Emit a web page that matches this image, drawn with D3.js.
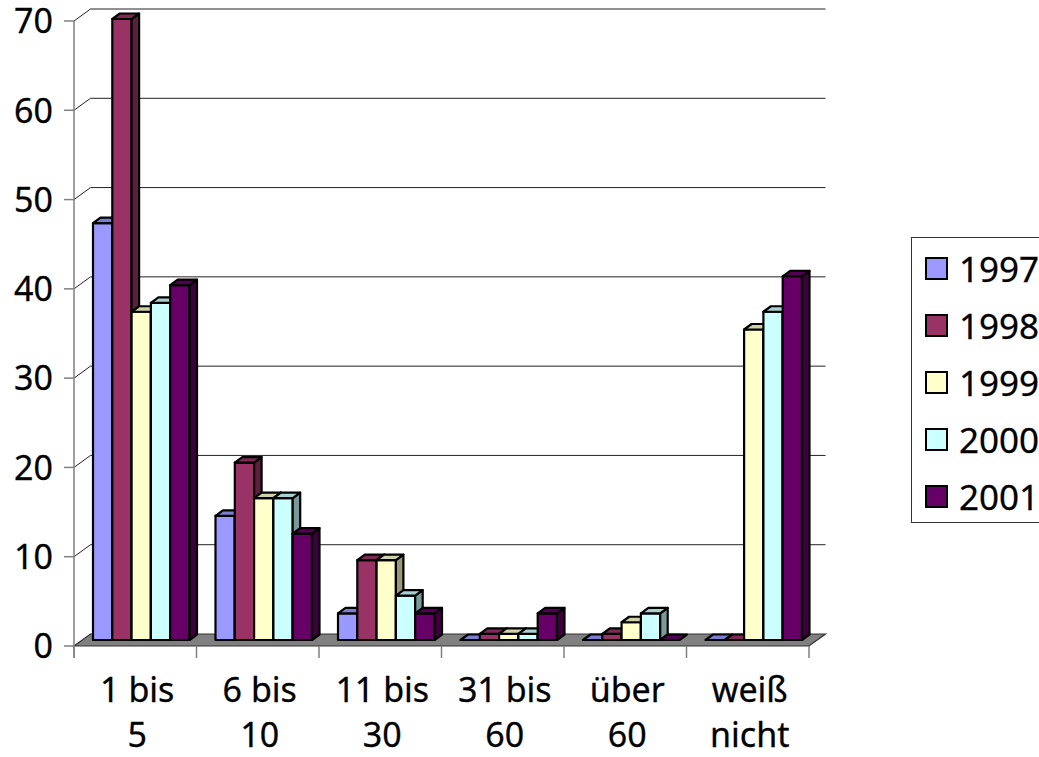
<!DOCTYPE html>
<html>
<head>
<meta charset="utf-8">
<script src="https://cdn.jsdelivr.net/npm/d3@7"></script>
<style>
  html, body { margin: 0; padding: 0; background: #fff; overflow: hidden; }
  svg { display: block; font-family: "Noto Sans", "Open Sans", sans-serif; }
  text { stroke: #000; stroke-width: 0.3px; }
</style>
</head>
<body>
<svg id="chart" width="1039" height="757"></svg>
<script>
// Category labels (two lines each)
const categories = [["1 bis", "5"], ["6 bis", "10"], ["11 bis", "30"], ["31 bis", "60"], ["über", "60"], ["weiß", "nicht"]];
const years = ["1997", "1998", "1999", "2000", "2001"];

// Values per year, one entry per category
const v1997 = [47, 14, 3, 0, 0, 0];
const v1998 = [70, 20, 9, 0.7, 0.7, 0];
const v1999 = [37, 16, 9, 0.7, 2, 35];
const v2000 = [38, 16, 5, 0.7, 3, 37];
const v2001 = [40, 12, 3, 3, 0, 41];
const seriesValues = [v1997, v1998, v1999, v2000, v2001];

const colors = ["#9999FF", "#993366", "#FFFFCC", "#CCFFFF", "#660066"];
const yTicks = [0, 10, 20, 30, 40, 50, 60, 70];

const svg = d3.select("#chart");

// Plot geometry: front plane of the floor, depth vector to the back wall
const depth = { dx: 16.5, dy: -12 };
const x = d3.scaleBand().domain(d3.range(categories.length)).range([74, 809]).padding(0);
const y = d3.scaleLinear().domain([0, 70]).range([646, 21]);
// Plane in which the bars stand (mid depth)
const yBar = d3.scaleLinear().domain([0, 70]).range([640, 19]);
const barShiftX = 8.5;
const inner = d3.scaleBand().domain(d3.range(years.length)).range([10.5, 107]).padding(0);
const barDepth = { dx: 7.5, dy: -5.5 };

function shade(c, k) {
  const r = d3.rgb(c);
  return d3.rgb(r.r * k, r.g * k, r.b * k).formatHex();
}
const pts = arr => arr.map(p => p.join(",")).join(" ");

// Back wall gridlines and the diagonal lines joining them to the value axis
const grid = svg.append("g");
yTicks.filter(t => t > 0).forEach(t => {
  const yf = y(t);
  grid.append("polyline")
    .attr("points", pts([[x.range()[0], yf], [x.range()[0] + depth.dx, yf + depth.dy], [x.range()[1] + depth.dx, yf + depth.dy]]))
    .attr("fill", "none").attr("stroke", "#222").attr("stroke-width", 1);
});

// Floor
const x0 = x.range()[0], x1 = x.range()[1], yf0 = y(0);
svg.append("polygon")
  .attr("points", pts([[x0, yf0], [x1, yf0], [x1 + depth.dx, yf0 + depth.dy], [x0 + depth.dx, yf0 + depth.dy]]))
  .attr("fill", "#808080").attr("stroke", "#333").attr("stroke-width", 1.2);

// Value axis
svg.append("line").attr("x1", x0).attr("x2", x0).attr("y1", y(70)).attr("y2", y(0) + 12)
  .attr("stroke", "#808080").attr("stroke-width", 1.5);
const yAxis = svg.append("g");
yTicks.forEach(t => {
  yAxis.append("line").attr("x1", x0 - 10).attr("x2", x0).attr("y1", y(t)).attr("y2", y(t))
    .attr("stroke", "#808080").attr("stroke-width", 1.5);
  yAxis.append("text").attr("x", 53).attr("y", y(t)).attr("dy", "0.36em")
    .attr("text-anchor", "end").attr("font-size", 34).attr("fill", "#000").text(t);
});

// Category axis ticks
d3.range(categories.length + 1).forEach(i => {
  const xx = i < categories.length ? x(i) : x1;
  svg.append("line").attr("x1", xx).attr("x2", xx).attr("y1", y(0)).attr("y2", y(0) + 12)
    .attr("stroke", "#808080").attr("stroke-width", 1.5);
});

// Category labels
const catLabels = svg.append("g");
categories.forEach((lines, i) => {
  const cx = x(i) + x.bandwidth() / 2;
  const t = catLabels.append("text").attr("text-anchor", "middle").attr("font-size", 34).attr("fill", "#000");
  t.append("tspan").attr("x", cx + 2).attr("y", 702).text(lines[0]);
  t.append("tspan").attr("x", cx + 2).attr("y", 747).text(lines[1]);
});

// 3D bars: front face, top face, side face
const bars = svg.append("g").attr("stroke", "#000").attr("stroke-width", 2.2).attr("stroke-linejoin", "round");
categories.forEach((c, ci) => {
  seriesValues.forEach((vals, si) => {
    const v = vals[ci];
    const left = x(ci) + inner(si) + barShiftX;
    const right = left + inner.bandwidth();
    const bottom = yBar(0);
    const top = yBar(v);
    const col = colors[si];
    const g = bars.append("g");
    if (top < bottom - 0.5) {
      g.append("polygon").attr("points", pts([[left, bottom], [right, bottom], [right, top], [left, top]])).attr("fill", col);
      g.append("polygon").attr("points", pts([[right, bottom], [right + barDepth.dx, bottom + barDepth.dy], [right + barDepth.dx, top + barDepth.dy], [right, top]])).attr("fill", shade(col, 0.6));
    }
    g.append("polygon").attr("points", pts([[left, top], [right, top], [right + barDepth.dx, top + barDepth.dy], [left + barDepth.dx, top + barDepth.dy]])).attr("fill", shade(col, 0.82));
  });
});

// Legend
const legend = svg.append("g");
legend.append("rect").attr("x", 911.5).attr("y", 237.5).attr("width", 140).attr("height", 285)
  .attr("fill", "#fff").attr("stroke", "#333").attr("stroke-width", 1);
years.forEach((yr, i) => {
  const cy = 269 + i * 57;
  legend.append("rect").attr("x", 926).attr("y", cy - 11).attr("width", 21).attr("height", 21)
    .attr("fill", colors[i]).attr("stroke", "#000").attr("stroke-width", 2);
  legend.append("text").attr("x", 959).attr("y", cy).attr("dy", "0.36em")
    .attr("font-size", 35).attr("fill", "#000").text(yr);
});
</script>
</body>
</html>
